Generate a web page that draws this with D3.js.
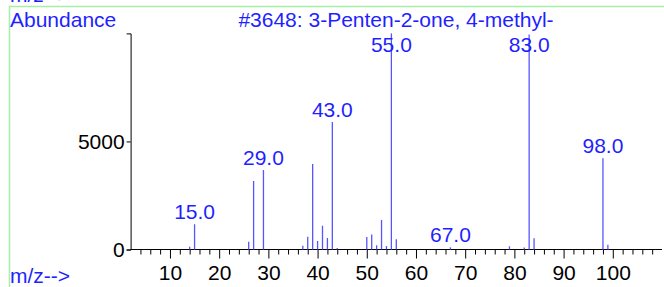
<!DOCTYPE html>
<html>
<head>
<meta charset="utf-8">
<script src="https://cdn.jsdelivr.net/npm/d3@7"></script>
<style>
  body { margin: 0; background: #fff; }
  svg { display: block; font-family: "Liberation Sans", Arial, sans-serif; }
</style>
</head>
<body>
<svg id="chart" width="664" height="287"></svg>
<script>
/*------------------------
  -------- DATA ----------
  ------------------------*/
var title = "#3648: 3-Penten-2-one, 4-methyl-";
var peak_mz = [14, 15, 26, 27, 29, 37, 38, 39, 40, 41, 42, 43, 44,
               50, 51, 52, 53, 54, 55, 56, 67, 79, 82, 83, 84, 98, 99];
var peak_abund = [130, 1170, 360, 3170, 3680, 175, 590, 3960, 395, 1100, 530, 5900, 70,
                  580, 690, 195, 1370, 160, 9999, 470, 100, 150, 90, 9950, 520, 4220, 220];
var labelled_mz = [15, 29, 43, 55, 67, 83, 98];
var x_ticks = [10, 20, 30, 40, 50, 60, 70, 80, 90, 100];
var y_ticks = [0, 5000];

var peaks = peak_mz.map(function(m, i) { return {mz: m, ab: peak_abund[i]}; });

/*------------------------
  ------- SCALES ---------
  ------------------------*/
var svg = d3.select("#chart");
var x = d3.scaleLinear().domain([2, 110]).range([130.6, 662]);
var y = d3.scaleLinear().domain([0, 10000]).range([249.5, 33.4]);
var blue = "#1f1fff";
var fsize = 21;

/*------------------------
  -------- FRAME ---------
  ------------------------*/
svg.append("line")
    .attr("x1", 9).attr("x2", 664).attr("y1", 6.5).attr("y2", 6.5)
    .attr("stroke", "#a6f0a6").attr("stroke-width", 1.5);
svg.append("line")
    .attr("x1", 9.5).attr("x2", 9.5).attr("y1", 6).attr("y2", 287)
    .attr("stroke", "#a6f0a6").attr("stroke-width", 1.5);

// the header copy of "m/z-->" sits mostly above the top edge
svg.append("text").attr("x", 10).attr("y", 2)
    .attr("fill", blue).attr("font-size", fsize).text("m/z-->");
svg.append("text").attr("x", 10).attr("y", 26.5)
    .attr("fill", blue).attr("font-size", fsize).text("Abundance");
svg.append("text").attr("x", 396).attr("y", 26.5)
    .attr("text-anchor", "middle")
    .attr("fill", blue).attr("font-size", fsize).text(title);
svg.append("text").attr("x", 10).attr("y", 283)
    .attr("fill", blue).attr("font-size", fsize).text("m/z-->");

/*------------------------
  -------- AXES ----------
  ------------------------*/
var x_minor = d3.range(4, 110, 2).filter(function(v) { return v % 10 != 0; });

var x_axis_major = d3.axisBottom(x).tickValues(x_ticks).tickSize(9).tickFormat(d3.format("d"));
var x_axis_minor = d3.axisBottom(x).tickValues(x_minor).tickSize(5).tickFormat("");
var y_axis = d3.axisLeft(y).tickValues(y_ticks).tickSize(4).tickFormat(d3.format("d"));

var gx = svg.append("g").attr("transform", "translate(0," + y(0) + ")").call(x_axis_major);
svg.append("g").attr("transform", "translate(0," + y(0) + ")").call(x_axis_minor)
    .select(".domain").remove();
var gy = svg.append("g").attr("transform", "translate(" + x(2) + ",0)").call(y_axis);

gx.select(".domain").attr("d", "M" + x(2) + ",0H" + x(110));
gx.selectAll("text").attr("font-size", fsize).attr("font-family", "Liberation Sans")
    .attr("fill", "#000").attr("y", 16).attr("dy", "0.71em");
gy.selectAll("text").attr("font-size", fsize).attr("font-family", "Liberation Sans")
    .attr("fill", "#000").attr("x", -6);
svg.selectAll(".tick line, .domain").attr("stroke", "#000").attr("stroke-width", 1);

/*------------------------
  -------- PEAKS ---------
  ------------------------*/
svg.append("g").selectAll(".peak")
    .data(peaks)
    .enter()
    .append("line")
    .attr("class", "peak")
    .attr("x1", function(d) { return x(d.mz); })
    .attr("x2", function(d) { return x(d.mz); })
    .attr("y1", y(0))
    .attr("y2", function(d) { return y(d.ab); })
    .attr("stroke", "#5656ff")
    .attr("stroke-width", 1.3);

svg.append("g").selectAll(".peak-label")
    .data(peaks.filter(function(d) { return labelled_mz.indexOf(d.mz) >= 0; }))
    .enter()
    .append("text")
    .attr("class", "peak-label")
    .attr("x", function(d) { return x(d.mz); })
    .attr("y", function(d) { return Math.max(y(d.ab) - 5, 51.5); })
    .attr("text-anchor", "middle")
    .attr("fill", blue)
    .attr("font-size", fsize)
    .text(function(d) { return d.mz.toFixed(1); });
</script>
</body>
</html>
